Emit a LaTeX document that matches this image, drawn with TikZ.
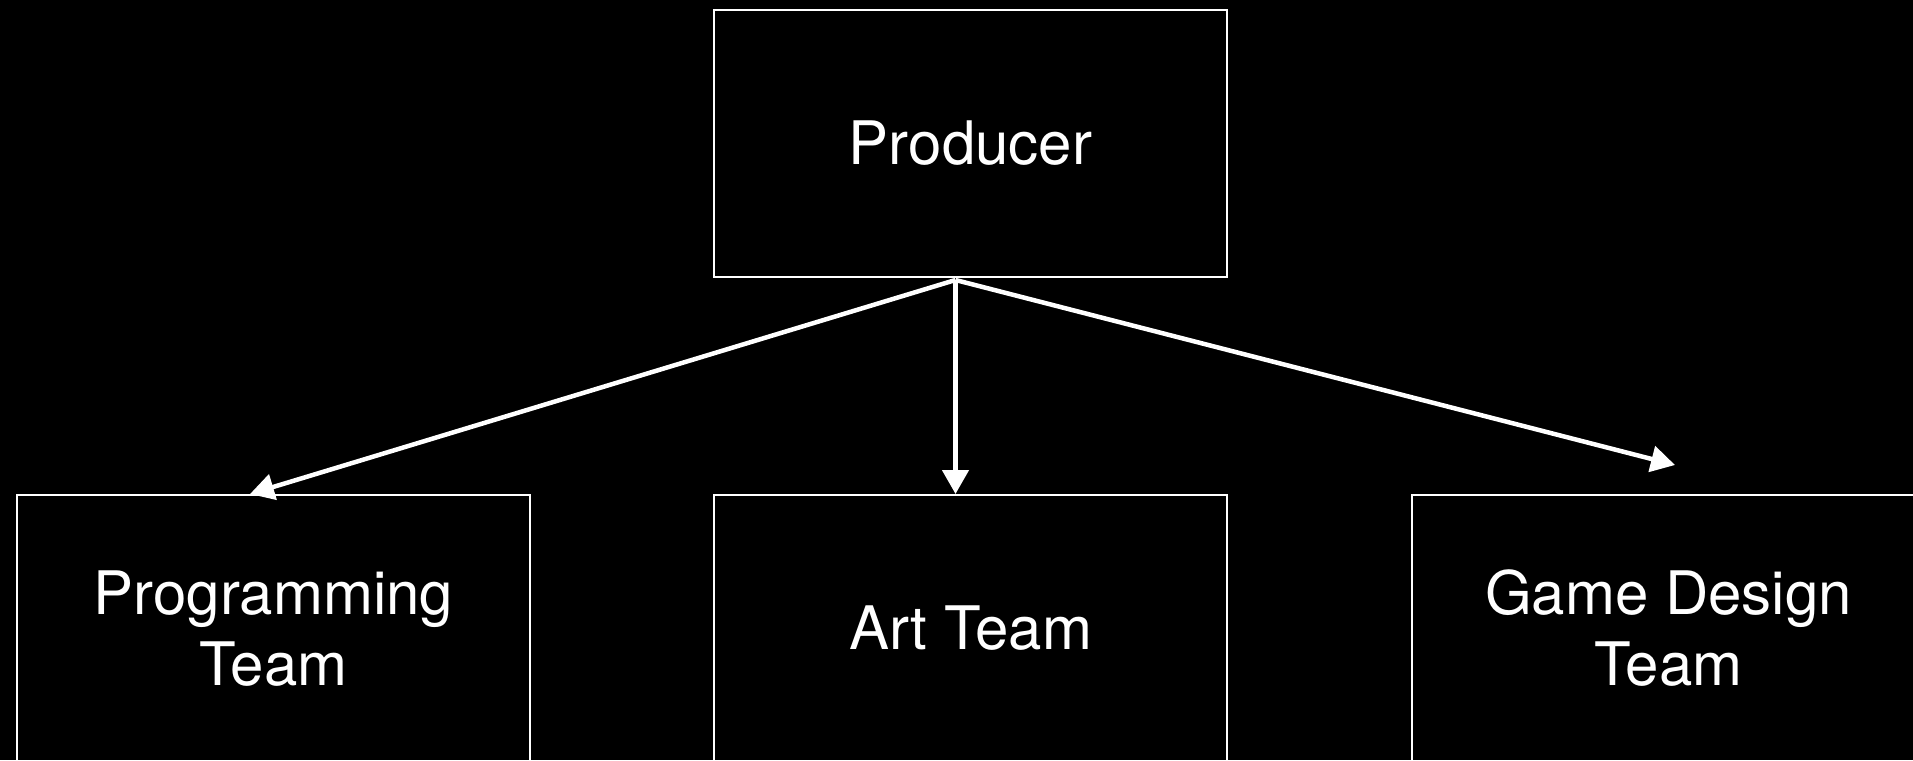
\documentclass[tikz,border=0pt]{standalone}
\usepackage{fontspec}
\setmainfont{TeX Gyre Heros}
\usetikzlibrary{arrows.meta}
\begin{document}
\begin{tikzpicture}[x=1pt,y=-1pt,
  box/.style={draw=white, line width=2pt, rectangle, minimum width=513pt, minimum height=267pt,
    inner sep=0pt, text=white, align=center, font=\fontsize{60}{71}\selectfont},
  conn/.style={draw=white, line width=4.5pt, -{Triangle[length=24pt,width=26pt]}}]
\useasboundingbox (0,0) rectangle (1913,760);
\fill[black] (0,0) rectangle (1913,760);
\clip (0,0) rectangle (1913,760);
\node[box] (prod) at (970.5,143.5) {\raisebox{-4pt}{Producer}};
\node[box] (prog) at (273.5,628.5) {Programming\\Team};
\node[box] (art) at (970.5,628.5) {\raisebox{-4pt}{Art Team}};
\node[box] (gd) at (1668.5,628.5) {Game Design\\Team};
\coordinate (src) at ([xshift=-15pt,yshift=-2pt]prod.south);
\coordinate (gdend) at ([xshift=6.5pt,yshift=29pt]gd.north);
\draw[conn] (src) -- ([xshift=-23.5pt]prog.north);
\draw[conn] (src) -- ([xshift=-15pt]art.north);
\draw[conn] (src) -- (gdend);
\end{tikzpicture}
\end{document}
